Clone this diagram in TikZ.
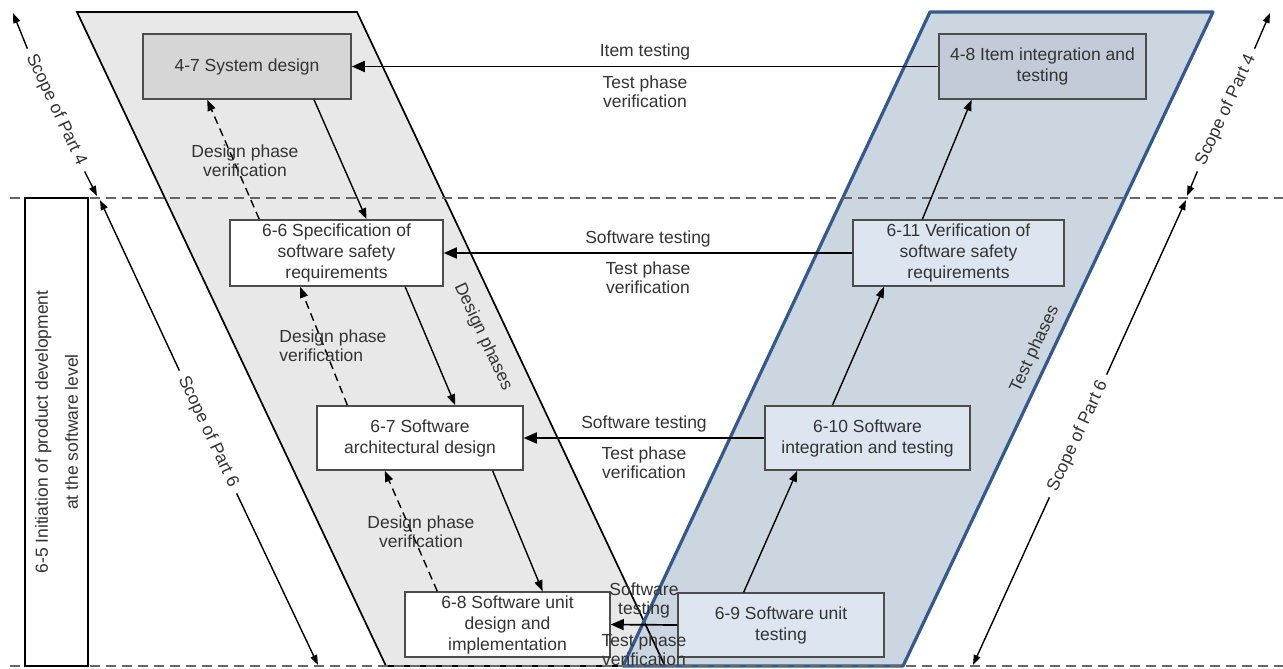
\documentclass[tikz,border=0pt]{standalone}
\usepackage{fontspec}
\setmainfont{Liberation Sans}
\usetikzlibrary{arrows.meta,calc}
\definecolor{designfill}{HTML}{E8E8E8}
\definecolor{testfill}{HTML}{CCD6E0}
\definecolor{testedge}{HTML}{34598A}
\definecolor{sdgray}{HTML}{D6D6D6}
\definecolor{itgray}{HTML}{C2CBD7}
\definecolor{testblue}{HTML}{DDE6F0}

\begin{document}
\begin{tikzpicture}[x=1pt, y=-1pt, thick,
  font=\fontsize{17.5}{21}\selectfont,
  box/.style = {draw=black!70, line width=1.5pt, text=black!80, align=center, minimum height=65pt, inner sep=2pt},
  lbl/.style = {text=black!80, align=center, font=\fontsize{17.5}{19}\selectfont},
  hflow/.style = {line width=1.7pt, -{Triangle[length=13pt,width=11pt]}},
  flow/.style = {line width=1.4pt, -{Triangle[length=11pt,width=8pt]}},
  check/.style = {flow, dash pattern=on 8pt off 5pt},
  scopearrow/.style = {line width=1.4pt, -{Triangle[length=10pt,width=7pt]}},
  phasetext/.style = {text=black!80, inner sep=7pt},
  divider/.style = {draw=black!60, line width=1.5pt, dash pattern=on 10pt off 6pt}]
  \useasboundingbox (0,0) rectangle (1283,669);
  \fill[designfill] (77,12) -- (357,12) -- (665,666) -- (386,666) -- cycle;
  \fill[testfill] (930,12) -- (1213,12) -- (903,666) -- (623,666) -- cycle;
  \draw[line width=1.7pt] (77,12) -- (357,12) -- (665,666) -- (386,666) -- cycle;
  \draw[testedge, line width=3.2pt, line join=round] (930,12) -- (1213,12) -- (903,666) -- (623,666) -- cycle;
  \coordinate (d1l) at (10,198);
  \coordinate (d1r) at (1283,198);
  \coordinate (d2l) at (10,666);
  \coordinate (d2r) at (1283,666);
  \draw[divider] (d1l) -- (d1r);
  \draw[divider] (d2l) -- (d2r);
  \node[draw, line width=1.2pt, fill=white, rotate=90, minimum width=468pt, minimum height=63pt, align=center, text=black!80] (init) at (56.5,432) {6-5 Initiation of product development\\[9pt]at the software level};
  \node[box, fill=sdgray, minimum width=208pt] (sd) at (247,66.5) {4-7 System design};
  \node[box, fill=itgray, minimum width=207pt] (iit) at (1042.5,66.5) {4-8 Item integration and\\testing};
  \node[box, fill=white, minimum width=213pt, minimum height=66pt] (ssr) at (336.5,253) {6-6 Specification of\\software safety\\requirements};
  \node[box, fill=testblue, minimum width=211pt, minimum height=66pt] (vssr) at (958.5,253) {6-11 Verification of\\software safety\\requirements};
  \node[box, fill=white, minimum width=206pt, minimum height=64pt] (sad) at (420,438) {6-7 Software\\architectural design};
  \node[box, fill=testblue, minimum width=205pt, minimum height=64pt] (sit) at (867.5,438) {6-10 Software\\integration and testing};
  \node[box, fill=white, minimum width=205pt] (sud) at (507.5,624.5) {6-8 Software unit\\design and\\implementation};
  \node[box, fill=testblue, minimum width=206pt, minimum height=64pt] (sut) at (781,625) {6-9 Software unit\\testing};
  \draw[hflow] (iit.west) -- node[lbl, above=2pt] (it1) {Item testing} node[lbl, below=5pt] (tpv1) {Test phase\\verification} (sd.east);
  \draw[hflow] (vssr.west) -- node[lbl, above=2pt] (st2) {Software testing} node[lbl, below=5pt] (tpv2) {Test phase\\verification} (ssr.east);
  \draw[hflow] (sit.west) -- node[lbl, above=2pt] (st3) {Software testing} node[lbl, below=5pt] (tpv3) {Test phase\\verification} (sad.east);
  \draw[hflow] (sut.west) -- node[lbl, above=2pt] (st4) {Software\\testing} node[lbl, below=5pt] (tpv4) {Test phase\\verification} (sud.east);
  \draw[flow] ($(sd.south west)!.82!(sd.south east)$) -- ($(ssr.north west)!.64!(ssr.north east)$);
  \draw[flow] ($(ssr.south west)!.82!(ssr.south east)$) -- ($(sad.north west)!.67!(sad.north east)$);
  \draw[flow] ($(sad.south west)!.85!(sad.south east)$) -- ($(sud.north west)!.67!(sud.north east)$);
  \draw[check] ($(ssr.north west)!.14!(ssr.north east)$) -- ($(sd.south west)!.31!(sd.south east)$);
  \draw[check] ($(sad.north west)!.15!(sad.north east)$) -- ($(ssr.south west)!.33!(ssr.south east)$);
  \draw[check] ($(sud.north west)!.16!(sud.north east)$) -- ($(sad.south west)!.33!(sad.south east)$);
  \draw[flow] ($(sut.north west)!.32!(sut.north east)$) -- ($(sit.south west)!.16!(sit.south east)$);
  \draw[flow] ($(sit.north west)!.33!(sit.north east)$) -- ($(vssr.south west)!.15!(vssr.south east)$);
  \draw[flow] ($(vssr.north west)!.33!(vssr.north east)$) -- ($(iit.south west)!.16!(iit.south east)$);
  \node[lbl] (dpv1) at (245,161) {Design phase\\verification};
  \node[lbl, align=left] (dpv2) at (333,346) {Design phase\\verification};
  \node[lbl] (dpv3) at (421,532) {Design phase\\verification};
  \node[phasetext, rotate=-65] (dp) at (483,337) {Design phases};
  \node[phasetext, rotate=65] (tp) at (1035,349) {Test phases};
  \node[phasetext, rotate=-65] (s4l) at (56,110) {Scope of Part 4};
  \node[phasetext, rotate=-65] (s6l) at (208,432) {Scope of Part 6};
  \node[phasetext, rotate=65] (s4r) at (1226,110) {Scope of Part 4};
  \node[phasetext, rotate=65] (s6r) at (1078,436) {Scope of Part 6};
  \coordinate (s4ltop) at (13,13);
  \coordinate (s4lbot) at (97,196);
  \coordinate (s6ltop) at (100,200);
  \coordinate (s6lbot) at (318,665);
  \coordinate (s4rtop) at (1270,13);
  \coordinate (s4rbot) at (1187,196);
  \coordinate (s6rtop) at (1186,200);
  \coordinate (s6rbot) at (973,665);
  \draw[scopearrow] (s4l.west) -- (s4ltop);
  \draw[scopearrow] (s4l.east) -- (s4lbot);
  \draw[scopearrow] (s6l.west) -- (s6ltop);
  \draw[scopearrow] (s6l.east) -- (s6lbot);
  \draw[scopearrow] (s4r.east) -- (s4rtop);
  \draw[scopearrow] (s4r.west) -- (s4rbot);
  \draw[scopearrow] (s6r.east) -- (s6rtop);
  \draw[scopearrow] (s6r.west) -- (s6rbot);
\end{tikzpicture}
\end{document}
